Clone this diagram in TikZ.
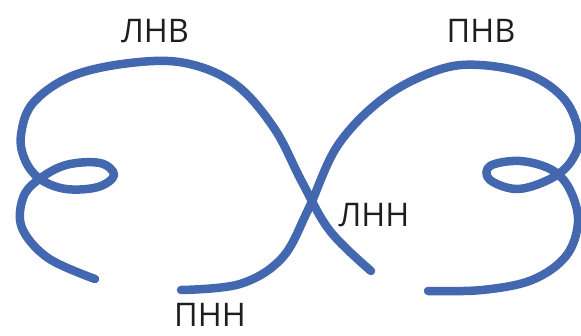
\documentclass[tikz,border=0pt]{standalone}
\usepackage{fontspec}
\setmainfont{Open Sans}
\definecolor{ribbon}{RGB}{68,104,176}
\definecolor{labeltext}{RGB}{30,30,30}
\begin{document}
\begin{tikzpicture}[x=1pt,y=-1pt,
  band/.style={draw=ribbon,line width=8.5pt,line cap=round,line join=round},
  lbl/.style={text=labeltext,font=\fontsize{32.5}{33}\selectfont,anchor=base,inner sep=0pt,text depth=0pt}]
\useasboundingbox (0,0) rectangle (581,336);
% left ribbon
\draw[band] plot[smooth,tension=0.6] coordinates {
  (95,279) (48,258) (22,228) (23,198) (38,180) (66,165) (100,163) (114,175)
  (98,187) (66,189) (40,179) (25,160) (21,135) (33,103) (72,76) (130,63)
  (185,63) (235,84) (274,128) (302,182) (330,231) (371,271)};
% right ribbon
\draw[band] plot[smooth,tension=0.6] coordinates {
  (181,290) (240,284) (282,258) (308,210) (338,145) (385,97) (438,70)
  (480,65) (530,75) (565,100) (579,135) (572,160) (552,178) (518,189)
  (490,180) (490,166) (520,161) (552,170) (570,190) (578,222) (566,256)
  (532,280) (482,290) (428,291)};
\node[lbl] (lnv) at (155,43) {ЛНВ};
\node[lbl] (pnv) at (481,43) {ПНВ};
\node[lbl] (lnn) at (374,227) {ЛНН};
\node[lbl] (pnn) at (210,327) {ПНН};
\end{tikzpicture}
\end{document}
